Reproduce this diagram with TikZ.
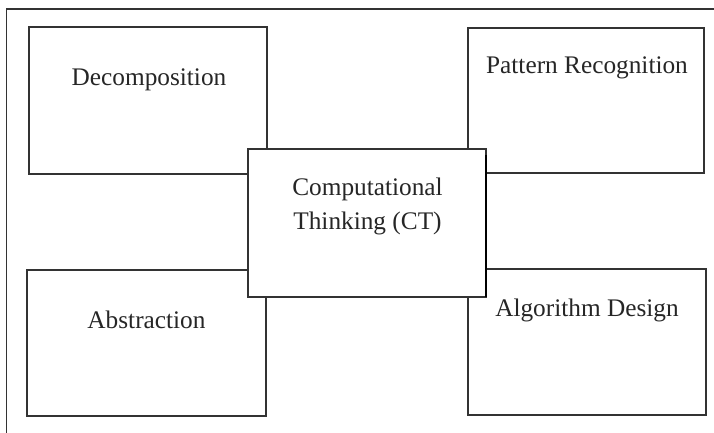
\documentclass[tikz,border=0pt]{standalone}
\usepackage{fontspec}
\setmainfont{Liberation Serif}
\begin{document}
\begin{tikzpicture}[x=1bp,y=-1bp,
  edge/.style={draw=black!80,line width=1.3bp},
  panel/.style={edge,fill=white},
  label/.style={text=black!85,font=\fontsize{25.4}{34}\selectfont,anchor=base,inner sep=0pt,align=center}]
\useasboundingbox (0,0) rectangle (714,432);
\fill[white] (0,0) rectangle (714,432);
% outer frame (runs off the page to the right and below)
\draw[edge] (6.5,440) -- (6.5,9) -- (720,9);
% four outer panels
\draw[panel] (29,27) rectangle (267,174);
\draw[panel] (468,28) rectangle (704,173);
\draw[panel] (27,270) rectangle (266,416);
\draw[panel] (468,269) rectangle (706,415);
% central panel on top
\draw[panel] (248,149) rectangle (486,297);
\draw[black,line width=2bp] (486,155) -- (486,297);
% labels
\node[label] (dec) at (149,85) {Decomposition};
\node[label] (pat) at (587,73) {Pattern Recognition};
\node[label] (ct1) at (367.5,195) {Computational};
\node[label] (ct2) at (367.5,229) {Thinking (CT)};
\node[label] (abs) at (146.5,328) {Abstraction};
\node[label] (alg) at (587,316) {Algorithm Design};
\end{tikzpicture}
\end{document}
